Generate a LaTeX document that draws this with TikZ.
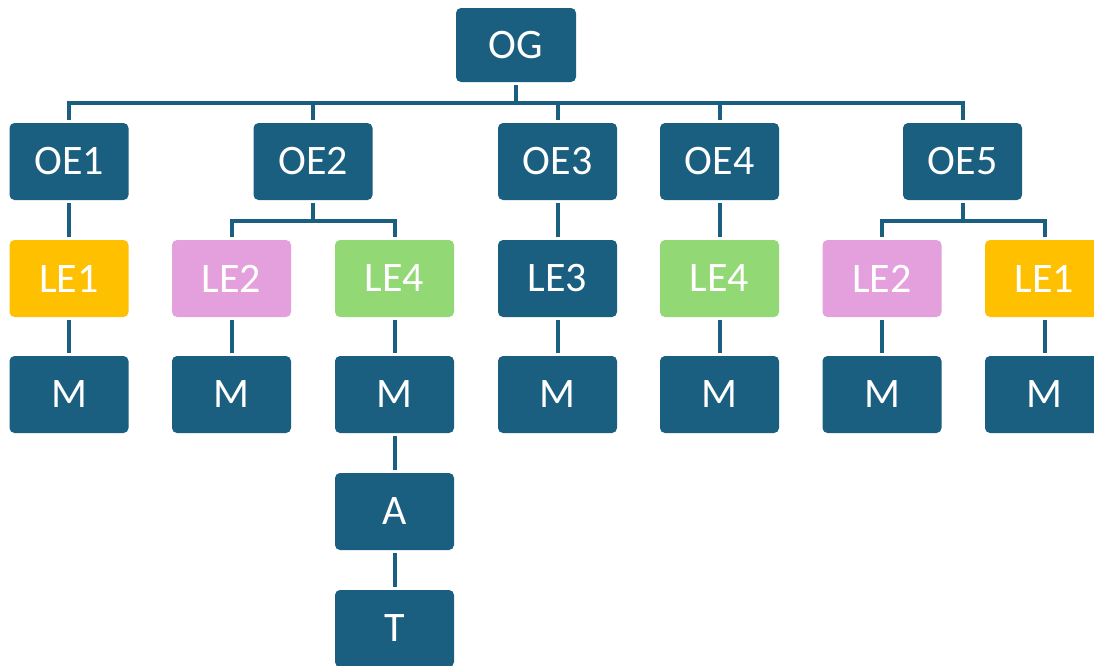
\documentclass[tikz,border=0pt]{standalone}
\usepackage{fontspec}
\setmainfont{Carlito}
\definecolor{dblue}{HTML}{1A5E80}
\definecolor{lyellow}{HTML}{FFC000}
\definecolor{lpink}{HTML}{E4A0DC}
\definecolor{lgreen}{HTML}{92D874}
\begin{document}
\begin{tikzpicture}[x=1pt,y=-1pt,
  box/.style={rounded corners=5pt, minimum width=119pt, minimum height=77pt, inner sep=0pt,
    text=white, font=\fontsize{42}{46}\selectfont, fill=#1},
  box/.default=dblue,
  conn/.style={draw=dblue, line width=4pt, shorten <=3pt, shorten >=3pt}]
\useasboundingbox (0,0) rectangle (1094,665);
% top
\node[box, minimum width=120pt, minimum height=74pt] (OG) at (516,45) {OG};
% OE row
\node[box] (OE1) at (69,161.5) {OE1};
\node[box] (OE2) at (313,161.5) {OE2};
\node[box] (OE3) at (557.5,161.5) {OE3};
\node[box] (OE4) at (719.5,161.5) {OE4};
\node[box] (OE5) at (962.5,161.5) {OE5};
% LE row
\node[box=lyellow] (LE1a) at (69,278.5) {LE1};
\node[box=lpink] (LE2a) at (231.5,278.5) {LE2};
\node[box=lgreen] (LE4a) at (394.5,278.5) {LE4};
\node[box] (LE3) at (557.5,278.5) {LE3};
\node[box=lgreen] (LE4b) at (719.5,278.5) {LE4};
\node[box=lpink] (LE2b) at (882,278.5) {LE2};
\node[box=lyellow] (LE1b) at (1044.5,278.5) {LE1};
% M row
\node[box] (M1) at (69,394.5) {M};
\node[box] (M2) at (231.5,394.5) {M};
\node[box] (M3) at (394.5,394.5) {M};
\node[box] (M4) at (557.5,394.5) {M};
\node[box] (M5) at (719.5,394.5) {M};
\node[box] (M6) at (882,394.5) {M};
\node[box] (M7) at (1044.5,394.5) {M};
% A, T
\node[box] (A) at (394.5,511.5) {A};
\node[box] (T) at (394.5,628.5) {T};
% buses
\coordinate (bus) at (0,103);
\coordinate (busb) at (0,221);
% connectors OG -> OE
\draw[conn, shorten >=0pt] (OG) -- (OG |- bus);
\foreach \n in {OE1,OE2,OE3,OE4,OE5}
  \draw[conn, shorten <=0pt] (OG |- bus) -| (\n);
% OE2 -> LE2, LE4
\draw[conn, shorten >=0pt] (OE2) -- (OE2 |- busb);
\draw[conn, shorten <=0pt] (OE2 |- busb) -| (LE2a);
\draw[conn, shorten <=0pt] (OE2 |- busb) -| (LE4a);
% OE5 -> LE2, LE1
\draw[conn, shorten >=0pt] (OE5) -- (OE5 |- busb);
\draw[conn, shorten <=0pt] (OE5 |- busb) -| (LE2b);
\draw[conn, shorten <=0pt] (OE5 |- busb) -| (LE1b);
% single chains
\draw[conn] (OE1) -- (LE1a);
\draw[conn] (OE3) -- (LE3);
\draw[conn] (OE4) -- (LE4b);
\draw[conn] (LE1a) -- (M1);
\draw[conn] (LE2a) -- (M2);
\draw[conn] (LE4a) -- (M3);
\draw[conn] (LE3) -- (M4);
\draw[conn] (LE4b) -- (M5);
\draw[conn] (LE2b) -- (M6);
\draw[conn] (LE1b) -- (M7);
\draw[conn] (M3) -- (A);
\draw[conn] (A) -- (T);
\end{tikzpicture}
\end{document}
